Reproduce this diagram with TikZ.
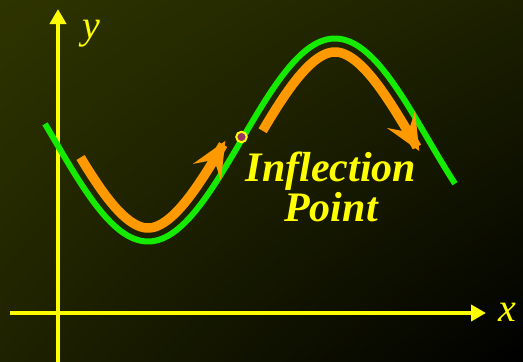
\documentclass[tikz,border=0pt]{standalone}
\usepackage{fontspec}
\setmainfont{Liberation Serif}
\usetikzlibrary{arrows.meta,shadings}
\definecolor{bgA}{RGB}{46,52,0}
\definecolor{bgB}{RGB}{28,32,0}
\definecolor{bgC}{RGB}{30,34,0}
\definecolor{axisyellow}{RGB}{255,255,0}
\definecolor{curvegreen}{RGB}{20,235,0}
\definecolor{arroworange}{RGB}{255,153,0}
\definecolor{dotpurple}{RGB}{153,51,102}
\tikzset{
  axisline/.style={axisyellow, line width=4pt, -{Triangle[length=15pt,width=16pt]}},
  axislabel/.style={text=axisyellow, font=\fontsize{40}{40}\selectfont\itshape, inner sep=0pt},
  curveline/.style={curvegreen, line width=6pt},
  flowline/.style={arroworange, line width=9.5pt, -{Stealth[length=36pt,width=32pt,inset=14pt]}},
  labeltext/.style={text=axisyellow, font=\fontsize{42}{40}\selectfont\bfseries\itshape, align=center, inner sep=0pt},
  declare function={
    th(\x)=(\x-241.5)/187*180;
    f(\x)=140-101.5*sin(th(\x));
    fp(\x)=-101.5*pi/187*cos(th(\x));
    nl(\x)=sqrt(1+fp(\x)^2);
  }
}
\begin{document}
\begin{tikzpicture}[x=1pt,y=-1pt]
\shade[upper left=bgA, upper right=bgB, lower left=bgC, lower right=black] (0,0) rectangle (523,362);
\useasboundingbox (0,0) rectangle (523,362);
% axes
\coordinate (xs) at (10,313);
\coordinate (xe) at (486,313);
\coordinate (ys) at (58,362);
\coordinate (ye) at (58,9);
\draw[axisline] (xs) -- (xe);
\draw[axisline] (ys) -- (ye);
\node[axislabel] (xl) at (507,312) {x};
\node[axislabel] (yl) at (91,34) {y};
% green curve
\draw[curveline, line cap=butt] plot[domain=45:455, samples=120, smooth] (\x,{f(\x)});
% orange arrows
\draw[flowline] plot[domain=69:237, samples=60, smooth] ({\x+13.5*fp(\x)/nl(\x)},{f(\x)-13.5/nl(\x)});
\draw[flowline] plot[domain=251:431, samples=60, smooth] ({\x-13.5*fp(\x)/nl(\x)},{f(\x)+13.5/nl(\x)});
% inflection point
\node[circle, draw=axisyellow, fill=dotpurple, line width=2pt, minimum size=10.5pt, inner sep=0pt] (ip) at (241.5,137) {};
\node[labeltext] (lbl) at (331,187) {Inflection\\Point};
\end{tikzpicture}
\end{document}
